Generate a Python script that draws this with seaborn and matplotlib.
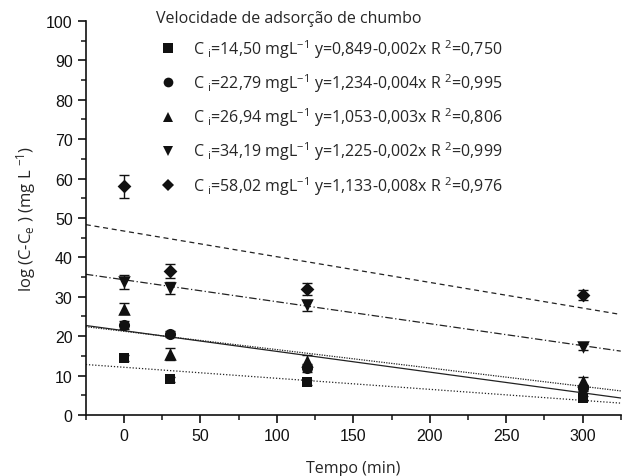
import matplotlib
matplotlib.use("Agg")
import matplotlib.pyplot as plt
from matplotlib.lines import Line2D
from matplotlib.ticker import MultipleLocator
import seaborn as sns
import pandas as pd

# ---- data ----
tempo = [0, 30, 120, 300]
series_names = ["14,50", "22,79", "26,94", "34,19", "58,02"]
equations = ["y=0,849-0,002x R $^2$=0,750",
             "y=1,234-0,004x R $^2$=0,995",
             "y=1,053-0,003x R $^2$=0,806",
             "y=1,225-0,002x R $^2$=0,999",
             "y=1,133-0,008x R $^2$=0,976"]
vals_1450 = [14.5, 9.0, 8.3, 4.2]
vals_2279 = [22.8, 20.6, 12.0, 6.8]
vals_2694 = [27.0, 15.5, 13.8, 8.5]
vals_3419 = [33.8, 32.3, 27.8, 17.3]
vals_5802 = [58.0, 36.5, 32.0, 30.5]
err_1450 = [0.8, 0.6, 0.6, 0.5]
err_2279 = [1.0, 0.8, 1.0, 0.8]
err_2694 = [1.5, 1.5, 1.5, 1.2]
err_3419 = [1.8, 1.5, 1.5, 0.8]
err_5802 = [3.0, 1.8, 1.5, 1.2]
# fitted lines, value at the two ends of the x range
fit_x = [-25, 325]
fit_1450 = [12.8, 3.0]
fit_2279 = [22.7, 4.3]
fit_2694 = [22.4, 6.1]
fit_3419 = [35.7, 16.2]
fit_5802 = [48.3, 25.5]

values = [vals_1450, vals_2279, vals_2694, vals_3419, vals_5802]
errors = [err_1450, err_2279, err_2694, err_3419, err_5802]
fits = [fit_1450, fit_2279, fit_2694, fit_3419, fit_5802]
markers = ["s", "o", "^", "v", "D"]
msizes = [7, 8, 9, 9, 7]
leg_msizes = [6.5, 7, 7.5, 7.5, 6.5]
linestyles = [(0, (1, 1.5)), "-", (0, (1, 1)), (0, (6, 2, 1, 2)), (0, (4, 3))]

sns.set_theme(style="ticks")
plt.rcParams["font.family"] = ["Liberation Sans", "DejaVu Sans"]
plt.rcParams["mathtext.fontset"] = "custom"
plt.rcParams["mathtext.rm"] = "Open Sans"
plt.rcParams["mathtext.it"] = "Open Sans:italic"

fig = plt.figure(figsize=(6.22, 4.77), dpi=100)
ax = fig.add_axes([0.138, 0.128, 0.86, 0.826])

for vals, errs, fit, mk, ms, ls in zip(values, errors, fits, markers, msizes, linestyles):
    df_fit = pd.DataFrame({"x": fit_x, "y": fit})
    sns.lineplot(data=df_fit, x="x", y="y", ax=ax, color="#222222",
                 linewidth=0.9, linestyle=ls)
    ax.errorbar(tempo, vals, yerr=errs, fmt="none", ecolor="#111111",
                elinewidth=1.0, capsize=3.5, capthick=1.0)
    df = pd.DataFrame({"x": tempo, "y": vals})
    sns.scatterplot(data=df, x="x", y="y", ax=ax, marker=mk, s=ms ** 2,
                    color="#111111", edgecolor="#111111", linewidth=0, zorder=5)

ax.set_xlim(-25, 325)
ax.set_ylim(0, 100)
ax.xaxis.set_major_locator(MultipleLocator(50))
ax.xaxis.set_minor_locator(MultipleLocator(25))
ax.yaxis.set_major_locator(MultipleLocator(10))
ax.yaxis.set_minor_locator(MultipleLocator(5))
ax.tick_params(which="major", direction="out", length=6, width=1.2,
               labelsize=11.5, colors="#111111")
ax.tick_params(which="minor", direction="out", length=3.5, width=1.2)
for s in ["top", "right"]:
    ax.spines[s].set_visible(False)
for s in ["left", "bottom"]:
    ax.spines[s].set_linewidth(1.2)
    ax.spines[s].set_color("#111111")

ax.set_xlabel("Tempo (min)", family=["Open Sans", "DejaVu Sans"], fontsize=11.5,
              labelpad=12)
ax.set_ylabel(r"log (C-C$_{\mathrm{e}}$ ) (mg L $^{-1}$)",
              family=["Open Sans", "DejaVu Sans"], fontsize=12, labelpad=6)

handles = []
labels = []
for name, eq, mk, ms in zip(series_names, equations, markers, leg_msizes):
    handles.append(Line2D([], [], linestyle="none", marker=mk, markersize=ms,
                          color="#111111", markeredgewidth=0))
    labels.append(r"C $_{\mathrm{i}}$=" + name + " mgL$^{-1}$ " + eq)
leg = ax.legend(handles, labels, title="Velocidade de adsorção de chumbo",
                loc="upper left", bbox_to_anchor=(0.12, 1.045), frameon=False,
                prop={"family": ["Open Sans", "DejaVu Sans"], "size": 11.5},
                labelspacing=0.72, handletextpad=0.8, handlelength=1.5,
                borderaxespad=0)
leg.get_title().set_family(["Open Sans", "DejaVu Sans"])
leg.get_title().set_fontsize(11.5)
leg._legend_box.align = "left"

fig.savefig("out.png", dpi=100)
